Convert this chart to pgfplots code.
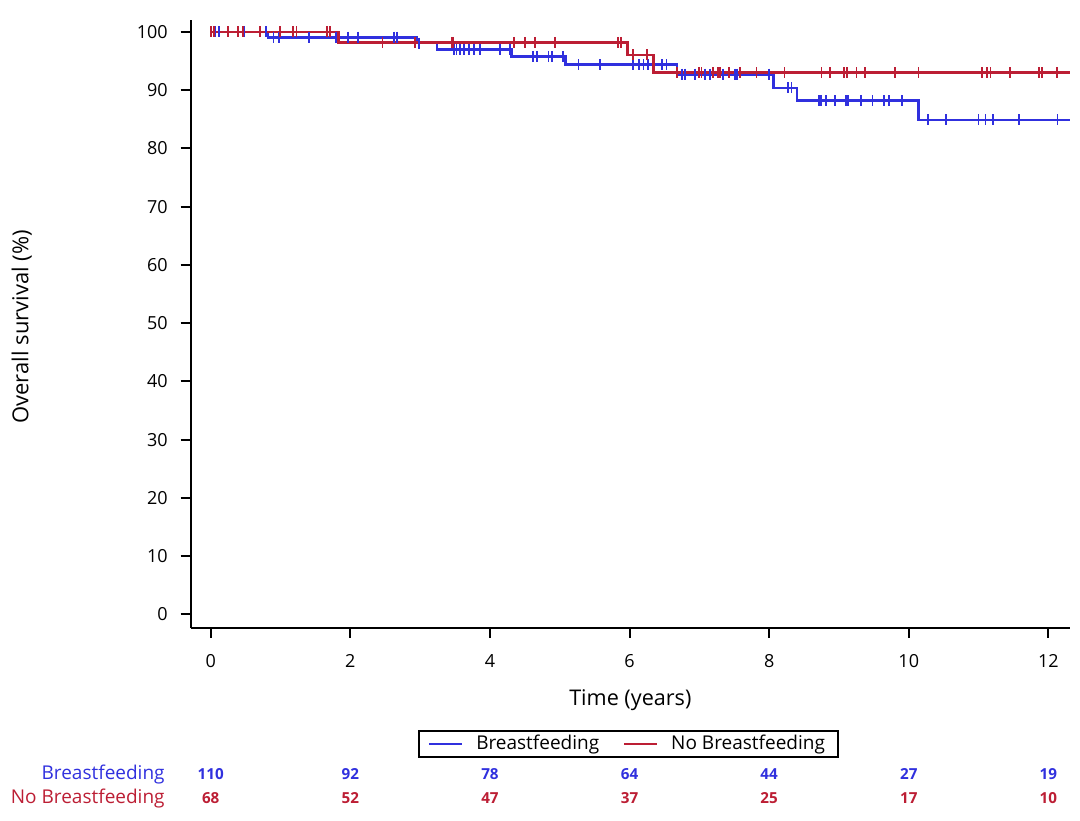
\documentclass[border=0pt]{standalone}
\usepackage{pgfplots}
\pgfplotsset{compat=1.18}
\usepackage{fontspec}
\setmainfont{Open Sans}
\definecolor{bfblue}{RGB}{48,48,222}
\definecolor{nbred}{RGB}{188,30,52}
\tikzset{
  rowA/.style={text=bfblue, font=\bfseries\fontsize{7.6}{9}\selectfont},
  rowB/.style={text=nbred, font=\bfseries\fontsize{7.6}{9}\selectfont},
}
\begin{document}
\begin{tikzpicture}
\path[use as bounding box] (-95.35pt,-96.15pt) rectangle (444.65pt,313.85pt);
\begin{axis}[
  at={(0,0)}, anchor=south west,
  scale only axis, width=439.65pt, height=303.85pt,
  xmin=-0.287, xmax=12.31, ymin=-2.3, ymax=102.06,
  axis x line*=bottom, axis y line*=left,
  axis line style={line width=1pt, black, -},
  xtick={0,2,4,6,8,10,12}, ytick={0,10,20,30,40,50,60,70,80,90,100},
  tick align=outside, major tick length=5pt,
  tick style={line width=1pt, black},
  ticklabel style={font=\fontsize{9}{11}\selectfont},
  yticklabel shift=3pt,
  xticklabel shift=4.7pt,
  /pgf/number format/assume math mode=true,
  xlabel={Time (years)},
  xlabel style={at={(axis description cs:0.5,-0.119)}, anchor=center, font=\fontsize{10.8}{13}\selectfont},
  ylabel={Overall survival (\%)},
  ylabel style={at={(axis description cs:-0.192,0.495)}, anchor=center, font=\fontsize{11}{13}\selectfont},
  clip=false,
  legend columns=2,
  legend style={at={(axis description cs:0.498,-0.191)}, anchor=center, draw=black, line width=1pt,
    font=\fontsize{9.5}{11}\selectfont, inner xsep=4.5pt, inner ysep=0.5pt,
    nodes={inner ysep=1.5pt},
    /tikz/every odd column/.append style={column sep=4.5pt},
    /tikz/every even column/.append style={column sep=10pt}},
  legend image code/.code={\draw[line width=1pt] (0cm,0cm) -- (0.58cm,0cm);},
]
% Kaplan-Meier step curves
\addplot[const plot, bfblue, line width=1.3pt] coordinates {
 (0,100) (0.82,99.1) (2.95,98.1) (3.24,97.0) (4.31,95.8) (5.08,94.4)
 (6.68,92.75) (8.06,90.4) (8.40,88.2) (10.14,84.9) (12.31,84.9)};
\addlegendentry{Breastfeeding}
\addplot[const plot, nbred, line width=1.3pt] coordinates {
 (0,100) (1.83,98.2) (5.97,96.05) (6.34,93.0) (12.31,93.0)};
\addlegendentry{No Breastfeeding\hspace{3.3pt}}
% censoring marks
\addplot[only marks, mark=|, mark size=2.75pt, bfblue, line width=0.9pt, forget plot] coordinates {
 (0.06,100) (0.12,100) (0.48,100) (0.79,100)
 (0.90,99.1) (0.98,99.1) (1.41,99.1) (1.80,99.1) (1.97,99.1) (2.11,99.1) (2.62,99.1) (2.67,99.1)
 (2.98,98.1)
 (3.48,97.0) (3.52,97.0) (3.57,97.0) (3.63,97.0) (3.70,97.0) (3.77,97.0) (3.86,97.0) (4.14,97.0) (4.29,97.0)
 (4.62,95.8) (4.67,95.8) (4.84,95.8) (4.89,95.8) (5.05,95.8)
 (5.27,94.4) (5.58,94.4) (6.05,94.4) (6.13,94.4) (6.20,94.4) (6.27,94.4) (6.46,94.4) (6.53,94.4)
 (6.75,92.75) (6.80,92.75) (6.94,92.75) (7.08,92.75) (7.15,92.75) (7.34,92.75) (7.51,92.75) (7.54,92.75) (8.00,92.75)
 (8.27,90.4) (8.32,90.4)
 (8.71,88.2) (8.74,88.2) (8.81,88.2) (8.94,88.2) (9.10,88.2) (9.13,88.2) (9.31,88.2) (9.48,88.2) (9.64,88.2) (9.72,88.2) (9.90,88.2)
 (10.27,84.9) (10.53,84.9) (11.00,84.9) (11.10,84.9) (11.21,84.9) (11.58,84.9) (12.13,84.9)};
\addplot[only marks, mark=|, mark size=2.75pt, nbred, line width=0.9pt, forget plot] coordinates {
 (0.00,100) (0.05,100) (0.25,100) (0.39,100) (0.46,100) (0.71,100) (0.99,100) (1.18,100) (1.23,100) (1.66,100) (1.71,100)
 (2.46,98.2) (2.93,98.2) (3.45,98.2) (3.47,98.2) (4.34,98.2) (4.50,98.2) (4.65,98.2) (4.93,98.2) (5.84,98.2) (5.88,98.2)
 (6.05,96.05) (6.25,96.05)
 (6.68,93.0) (6.99,93.0) (7.03,93.0) (7.20,93.0) (7.27,93.0) (7.30,93.0) (7.42,93.0) (7.58,93.0) (7.82,93.0) (8.22,93.0)
 (8.75,93.0) (8.87,93.0) (9.07,93.0) (9.11,93.0) (9.25,93.0) (9.37,93.0) (9.80,93.0) (10.14,93.0)
 (11.05,93.0) (11.12,93.0) (11.17,93.0) (11.45,93.0) (11.86,93.0) (11.91,93.0) (12.12,93.0)};
% number at risk
\node[anchor=east, inner xsep=0pt, text=bfblue, font=\fontsize{9.5}{11}\selectfont] at (axis cs:-0.655,-27.48) {Breastfeeding};
\node[anchor=east, inner xsep=0pt, text=nbred, font=\fontsize{9.5}{11}\selectfont] at (axis cs:-0.655,-31.60) {No Breastfeeding};
\node[rowA] at (axis cs:0,-27.48) {110};
\node[rowA] at (axis cs:2,-27.48) {92};
\node[rowA] at (axis cs:4,-27.48) {78};
\node[rowA] at (axis cs:6,-27.48) {64};
\node[rowA] at (axis cs:8,-27.48) {44};
\node[rowA] at (axis cs:10,-27.48) {27};
\node[rowA] at (axis cs:12,-27.48) {19};
\node[rowB] at (axis cs:0,-31.60) {68};
\node[rowB] at (axis cs:2,-31.60) {52};
\node[rowB] at (axis cs:4,-31.60) {47};
\node[rowB] at (axis cs:6,-31.60) {37};
\node[rowB] at (axis cs:8,-31.60) {25};
\node[rowB] at (axis cs:10,-31.60) {17};
\node[rowB] at (axis cs:12,-31.60) {10};
\end{axis}
\end{tikzpicture}
\end{document}
